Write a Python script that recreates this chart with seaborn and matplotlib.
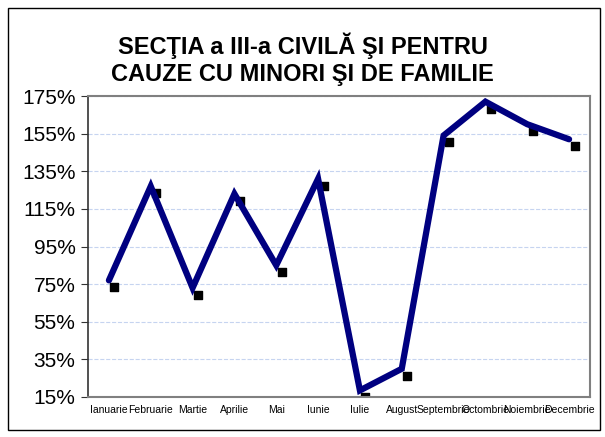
import numpy as np
import pandas as pd
import matplotlib
matplotlib.use("Agg")
import matplotlib.pyplot as plt
import matplotlib.transforms as mtransforms
from matplotlib.patches import Rectangle
import seaborn as sns

months = ['Ianuarie', 'Februarie', 'Martie', 'Aprilie', 'Mai', 'Iunie', 'Iulie',
          'August', 'Septembrie', 'Octombrie', 'Noiembrie', 'Decembrie']
values = [77, 127, 73, 123, 85, 131, 18.5, 30, 154, 172, 160, 152]
yticks = [15, 35, 55, 75, 95, 115, 135, 155, 175]
title = 'SECŢIA a III-a CIVILĂ ŞI PENTRU\nCAUZE CU MINORI ŞI DE FAMILIE'

df = pd.DataFrame({'month': months, 'value': values, 'pos': np.arange(len(months))})

sns.set_style('white')
plt.rcParams['font.family'] = ['Liberation Sans', 'DejaVu Sans']

fig = plt.figure(figsize=(6.05, 4.37), dpi=100)
ax = fig.add_axes([88 / 605, 1 - 397 / 437, (590 - 88) / 605, (397 - 96) / 437])

# black shadow markers offset to the lower right
shadow = mtransforms.offset_copy(ax.transData, fig=fig, x=4, y=-5, units='points')
ax.scatter(df['pos'], df['value'], marker='s', s=26, color='black', transform=shadow, zorder=2)
sns.lineplot(data=df, x='pos', y='value', ax=ax, color='#000080', linewidth=4.5,
             solid_capstyle='round', solid_joinstyle='miter', zorder=3)

ax.set_xlim(-0.5, len(months) - 0.5)
ax.set_ylim(15, 175)
ax.set_yticks(yticks)
ax.set_yticklabels([f'{v}%' for v in yticks], fontsize=15, color='black')
ax.set_xticks(np.arange(len(months)))
ax.set_xticklabels(months, fontsize=7.5, color='black')
ax.set_xticks(np.arange(len(months) + 1) - 0.5, minor=True)
ax.tick_params(axis='x', which='major', length=0, pad=6)
ax.tick_params(axis='x', which='minor', length=4, color='#555555', direction='out')
ax.tick_params(axis='y', length=5, color='#333333', direction='out', pad=4, left=True)
ax.set_xlabel('')
ax.set_ylabel('')
ax.yaxis.grid(True, color='#c6d4f0', linestyle='--', linewidth=0.8)
for side in ['top', 'right', 'bottom']:
    ax.spines[side].set_color('#808080')
    ax.spines[side].set_linewidth(1.5)
ax.spines['left'].set_color('#333333')
ax.spines['left'].set_linewidth(1.2)

fig.text(0.5, 1 - 59 / 437, title, ha='center', va='center', fontsize=17,
         fontweight='bold', linespacing=1.2, color='black')
fig.patches.append(Rectangle((8 / 605, 1 - 430 / 437), 592 / 605, 422 / 437,
                             transform=fig.transFigure, fill=False, edgecolor='black', linewidth=1))

fig.savefig('out.png', dpi=100)
